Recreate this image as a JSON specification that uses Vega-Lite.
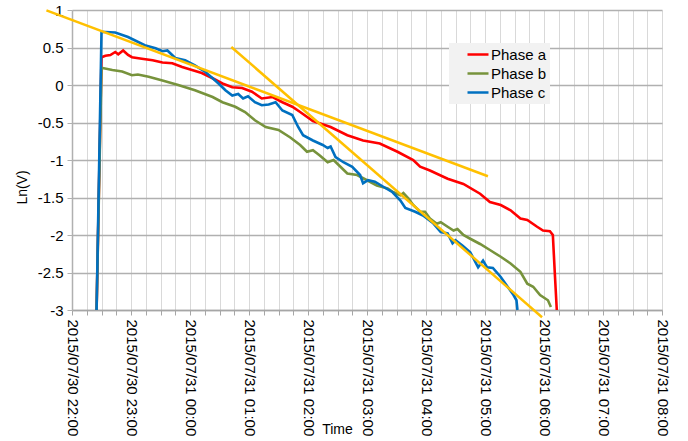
{
  "$schema": "https://vega.github.io/schema/vega-lite/v6.json",
  "width": 590,
  "height": 300,
  "autosize": {"type": "none"},
  "padding": {"left": 72, "top": 10, "right": 26, "bottom": 131},
  "background": "white",
  "config": {"font": "Liberation Sans", "view": {"stroke": null}},
  "layer": [
    {
      "data": {"values": [
        {"phase": "Phase a", "time": "2015-07-30T22:25", "lnv": -3},
        {"phase": "Phase a", "time": "2015-07-30T22:30", "lnv": 0.37},
        {"phase": "Phase a", "time": "2015-07-30T22:34", "lnv": 0.39},
        {"phase": "Phase a", "time": "2015-07-30T22:39", "lnv": 0.40},
        {"phase": "Phase a", "time": "2015-07-30T22:44", "lnv": 0.44},
        {"phase": "Phase a", "time": "2015-07-30T22:47", "lnv": 0.41},
        {"phase": "Phase a", "time": "2015-07-30T22:52", "lnv": 0.46},
        {"phase": "Phase a", "time": "2015-07-30T22:57", "lnv": 0.40},
        {"phase": "Phase a", "time": "2015-07-30T23:01", "lnv": 0.37},
        {"phase": "Phase a", "time": "2015-07-30T23:11", "lnv": 0.35},
        {"phase": "Phase a", "time": "2015-07-30T23:22", "lnv": 0.33},
        {"phase": "Phase a", "time": "2015-07-30T23:32", "lnv": 0.30},
        {"phase": "Phase a", "time": "2015-07-30T23:42", "lnv": 0.29},
        {"phase": "Phase a", "time": "2015-07-30T23:52", "lnv": 0.24},
        {"phase": "Phase a", "time": "2015-07-31T00:02", "lnv": 0.20},
        {"phase": "Phase a", "time": "2015-07-31T00:12", "lnv": 0.16},
        {"phase": "Phase a", "time": "2015-07-31T00:23", "lnv": 0.09},
        {"phase": "Phase a", "time": "2015-07-31T00:33", "lnv": 0.02},
        {"phase": "Phase a", "time": "2015-07-31T00:43", "lnv": -0.03},
        {"phase": "Phase a", "time": "2015-07-31T00:53", "lnv": -0.04},
        {"phase": "Phase a", "time": "2015-07-31T01:03", "lnv": -0.09},
        {"phase": "Phase a", "time": "2015-07-31T01:13", "lnv": -0.18},
        {"phase": "Phase a", "time": "2015-07-31T01:24", "lnv": -0.16},
        {"phase": "Phase a", "time": "2015-07-31T01:34", "lnv": -0.23},
        {"phase": "Phase a", "time": "2015-07-31T01:44", "lnv": -0.29},
        {"phase": "Phase a", "time": "2015-07-31T01:52", "lnv": -0.36},
        {"phase": "Phase a", "time": "2015-07-31T02:05", "lnv": -0.48},
        {"phase": "Phase a", "time": "2015-07-31T02:23", "lnv": -0.56},
        {"phase": "Phase a", "time": "2015-07-31T02:40", "lnv": -0.67},
        {"phase": "Phase a", "time": "2015-07-31T02:56", "lnv": -0.74},
        {"phase": "Phase a", "time": "2015-07-31T03:13", "lnv": -0.78},
        {"phase": "Phase a", "time": "2015-07-31T03:31", "lnv": -0.89},
        {"phase": "Phase a", "time": "2015-07-31T03:47", "lnv": -1.00},
        {"phase": "Phase a", "time": "2015-07-31T03:54", "lnv": -1.09},
        {"phase": "Phase a", "time": "2015-07-31T04:04", "lnv": -1.14},
        {"phase": "Phase a", "time": "2015-07-31T04:22", "lnv": -1.25},
        {"phase": "Phase a", "time": "2015-07-31T04:38", "lnv": -1.32},
        {"phase": "Phase a", "time": "2015-07-31T04:55", "lnv": -1.45},
        {"phase": "Phase a", "time": "2015-07-31T05:05", "lnv": -1.56},
        {"phase": "Phase a", "time": "2015-07-31T05:16", "lnv": -1.60},
        {"phase": "Phase a", "time": "2015-07-31T05:26", "lnv": -1.67},
        {"phase": "Phase a", "time": "2015-07-31T05:36", "lnv": -1.78},
        {"phase": "Phase a", "time": "2015-07-31T05:43", "lnv": -1.80},
        {"phase": "Phase a", "time": "2015-07-31T05:53", "lnv": -1.89},
        {"phase": "Phase a", "time": "2015-07-31T05:59", "lnv": -1.94},
        {"phase": "Phase a", "time": "2015-07-31T06:06", "lnv": -1.95},
        {"phase": "Phase a", "time": "2015-07-31T06:09", "lnv": -2.00},
        {"phase": "Phase a", "time": "2015-07-31T06:11", "lnv": -2.51},
        {"phase": "Phase a", "time": "2015-07-31T06:13", "lnv": -3.0},
        {"phase": "Phase b", "time": "2015-07-30T22:25", "lnv": -3},
        {"phase": "Phase b", "time": "2015-07-30T22:30", "lnv": 0.23},
        {"phase": "Phase b", "time": "2015-07-30T22:41", "lnv": 0.20},
        {"phase": "Phase b", "time": "2015-07-30T22:51", "lnv": 0.18},
        {"phase": "Phase b", "time": "2015-07-30T23:01", "lnv": 0.13},
        {"phase": "Phase b", "time": "2015-07-30T23:07", "lnv": 0.14},
        {"phase": "Phase b", "time": "2015-07-30T23:18", "lnv": 0.11},
        {"phase": "Phase b", "time": "2015-07-30T23:32", "lnv": 0.06},
        {"phase": "Phase b", "time": "2015-07-30T23:48", "lnv": 0.00},
        {"phase": "Phase b", "time": "2015-07-31T00:05", "lnv": -0.07},
        {"phase": "Phase b", "time": "2015-07-31T00:23", "lnv": -0.16},
        {"phase": "Phase b", "time": "2015-07-31T00:33", "lnv": -0.23},
        {"phase": "Phase b", "time": "2015-07-31T00:46", "lnv": -0.29},
        {"phase": "Phase b", "time": "2015-07-31T00:56", "lnv": -0.36},
        {"phase": "Phase b", "time": "2015-07-31T01:06", "lnv": -0.47},
        {"phase": "Phase b", "time": "2015-07-31T01:17", "lnv": -0.56},
        {"phase": "Phase b", "time": "2015-07-31T01:30", "lnv": -0.60},
        {"phase": "Phase b", "time": "2015-07-31T01:42", "lnv": -0.70},
        {"phase": "Phase b", "time": "2015-07-31T01:52", "lnv": -0.80},
        {"phase": "Phase b", "time": "2015-07-31T01:59", "lnv": -0.89},
        {"phase": "Phase b", "time": "2015-07-31T02:05", "lnv": -0.87},
        {"phase": "Phase b", "time": "2015-07-31T02:12", "lnv": -0.94},
        {"phase": "Phase b", "time": "2015-07-31T02:20", "lnv": -1.03},
        {"phase": "Phase b", "time": "2015-07-31T02:26", "lnv": -1.00},
        {"phase": "Phase b", "time": "2015-07-31T02:33", "lnv": -1.09},
        {"phase": "Phase b", "time": "2015-07-31T02:40", "lnv": -1.18},
        {"phase": "Phase b", "time": "2015-07-31T02:50", "lnv": -1.20},
        {"phase": "Phase b", "time": "2015-07-31T03:00", "lnv": -1.27},
        {"phase": "Phase b", "time": "2015-07-31T03:10", "lnv": -1.34},
        {"phase": "Phase b", "time": "2015-07-31T03:21", "lnv": -1.38},
        {"phase": "Phase b", "time": "2015-07-31T03:27", "lnv": -1.43},
        {"phase": "Phase b", "time": "2015-07-31T03:34", "lnv": -1.47},
        {"phase": "Phase b", "time": "2015-07-31T03:37", "lnv": -1.44},
        {"phase": "Phase b", "time": "2015-07-31T03:42", "lnv": -1.51},
        {"phase": "Phase b", "time": "2015-07-31T03:47", "lnv": -1.60},
        {"phase": "Phase b", "time": "2015-07-31T03:54", "lnv": -1.69},
        {"phase": "Phase b", "time": "2015-07-31T03:59", "lnv": -1.69},
        {"phase": "Phase b", "time": "2015-07-31T04:04", "lnv": -1.78},
        {"phase": "Phase b", "time": "2015-07-31T04:11", "lnv": -1.85},
        {"phase": "Phase b", "time": "2015-07-31T04:15", "lnv": -1.83},
        {"phase": "Phase b", "time": "2015-07-31T04:22", "lnv": -1.89},
        {"phase": "Phase b", "time": "2015-07-31T04:28", "lnv": -1.94},
        {"phase": "Phase b", "time": "2015-07-31T04:32", "lnv": -1.92},
        {"phase": "Phase b", "time": "2015-07-31T04:38", "lnv": -2.00},
        {"phase": "Phase b", "time": "2015-07-31T04:45", "lnv": -2.05},
        {"phase": "Phase b", "time": "2015-07-31T04:55", "lnv": -2.12},
        {"phase": "Phase b", "time": "2015-07-31T05:05", "lnv": -2.20},
        {"phase": "Phase b", "time": "2015-07-31T05:16", "lnv": -2.29},
        {"phase": "Phase b", "time": "2015-07-31T05:26", "lnv": -2.38},
        {"phase": "Phase b", "time": "2015-07-31T05:36", "lnv": -2.49},
        {"phase": "Phase b", "time": "2015-07-31T05:43", "lnv": -2.65},
        {"phase": "Phase b", "time": "2015-07-31T05:49", "lnv": -2.69},
        {"phase": "Phase b", "time": "2015-07-31T05:56", "lnv": -2.80},
        {"phase": "Phase b", "time": "2015-07-31T06:04", "lnv": -2.87},
        {"phase": "Phase b", "time": "2015-07-31T06:07", "lnv": -2.96},
        {"phase": "Phase c", "time": "2015-07-30T22:25", "lnv": -3},
        {"phase": "Phase c", "time": "2015-07-30T22:30", "lnv": 0.71},
        {"phase": "Phase c", "time": "2015-07-30T22:44", "lnv": 0.70},
        {"phase": "Phase c", "time": "2015-07-30T22:57", "lnv": 0.64},
        {"phase": "Phase c", "time": "2015-07-30T23:14", "lnv": 0.53},
        {"phase": "Phase c", "time": "2015-07-30T23:25", "lnv": 0.49},
        {"phase": "Phase c", "time": "2015-07-30T23:32", "lnv": 0.45},
        {"phase": "Phase c", "time": "2015-07-30T23:37", "lnv": 0.46},
        {"phase": "Phase c", "time": "2015-07-30T23:45", "lnv": 0.36},
        {"phase": "Phase c", "time": "2015-07-30T23:55", "lnv": 0.33},
        {"phase": "Phase c", "time": "2015-07-31T00:05", "lnv": 0.26},
        {"phase": "Phase c", "time": "2015-07-31T00:16", "lnv": 0.17},
        {"phase": "Phase c", "time": "2015-07-31T00:23", "lnv": 0.09},
        {"phase": "Phase c", "time": "2015-07-31T00:29", "lnv": 0.02},
        {"phase": "Phase c", "time": "2015-07-31T00:36", "lnv": -0.07},
        {"phase": "Phase c", "time": "2015-07-31T00:43", "lnv": -0.14},
        {"phase": "Phase c", "time": "2015-07-31T00:49", "lnv": -0.12},
        {"phase": "Phase c", "time": "2015-07-31T00:54", "lnv": -0.18},
        {"phase": "Phase c", "time": "2015-07-31T00:59", "lnv": -0.15},
        {"phase": "Phase c", "time": "2015-07-31T01:06", "lnv": -0.23},
        {"phase": "Phase c", "time": "2015-07-31T01:13", "lnv": -0.27},
        {"phase": "Phase c", "time": "2015-07-31T01:20", "lnv": -0.26},
        {"phase": "Phase c", "time": "2015-07-31T01:27", "lnv": -0.23},
        {"phase": "Phase c", "time": "2015-07-31T01:34", "lnv": -0.34},
        {"phase": "Phase c", "time": "2015-07-31T01:44", "lnv": -0.40},
        {"phase": "Phase c", "time": "2015-07-31T01:50", "lnv": -0.56},
        {"phase": "Phase c", "time": "2015-07-31T01:55", "lnv": -0.67},
        {"phase": "Phase c", "time": "2015-07-31T02:05", "lnv": -0.74},
        {"phase": "Phase c", "time": "2015-07-31T02:15", "lnv": -0.80},
        {"phase": "Phase c", "time": "2015-07-31T02:20", "lnv": -0.84},
        {"phase": "Phase c", "time": "2015-07-31T02:23", "lnv": -0.82},
        {"phase": "Phase c", "time": "2015-07-31T02:28", "lnv": -0.96},
        {"phase": "Phase c", "time": "2015-07-31T02:36", "lnv": -1.03},
        {"phase": "Phase c", "time": "2015-07-31T02:45", "lnv": -1.09},
        {"phase": "Phase c", "time": "2015-07-31T02:53", "lnv": -1.20},
        {"phase": "Phase c", "time": "2015-07-31T02:56", "lnv": -1.31},
        {"phase": "Phase c", "time": "2015-07-31T03:01", "lnv": -1.27},
        {"phase": "Phase c", "time": "2015-07-31T03:08", "lnv": -1.29},
        {"phase": "Phase c", "time": "2015-07-31T03:17", "lnv": -1.36},
        {"phase": "Phase c", "time": "2015-07-31T03:26", "lnv": -1.43},
        {"phase": "Phase c", "time": "2015-07-31T03:34", "lnv": -1.54},
        {"phase": "Phase c", "time": "2015-07-31T03:39", "lnv": -1.64},
        {"phase": "Phase c", "time": "2015-07-31T03:49", "lnv": -1.69},
        {"phase": "Phase c", "time": "2015-07-31T03:57", "lnv": -1.74},
        {"phase": "Phase c", "time": "2015-07-31T04:07", "lnv": -1.84},
        {"phase": "Phase c", "time": "2015-07-31T04:15", "lnv": -1.96},
        {"phase": "Phase c", "time": "2015-07-31T04:22", "lnv": -1.98},
        {"phase": "Phase c", "time": "2015-07-31T04:27", "lnv": -2.11},
        {"phase": "Phase c", "time": "2015-07-31T04:30", "lnv": -2.07},
        {"phase": "Phase c", "time": "2015-07-31T04:37", "lnv": -2.14},
        {"phase": "Phase c", "time": "2015-07-31T04:45", "lnv": -2.23},
        {"phase": "Phase c", "time": "2015-07-31T04:53", "lnv": -2.43},
        {"phase": "Phase c", "time": "2015-07-31T04:58", "lnv": -2.34},
        {"phase": "Phase c", "time": "2015-07-31T05:02", "lnv": -2.43},
        {"phase": "Phase c", "time": "2015-07-31T05:08", "lnv": -2.44},
        {"phase": "Phase c", "time": "2015-07-31T05:16", "lnv": -2.56},
        {"phase": "Phase c", "time": "2015-07-31T05:23", "lnv": -2.69},
        {"phase": "Phase c", "time": "2015-07-31T05:29", "lnv": -2.80},
        {"phase": "Phase c", "time": "2015-07-31T05:32", "lnv": -2.87},
        {"phase": "Phase c", "time": "2015-07-31T05:33", "lnv": -3.0}
      ]},
      "mark": {"type": "line", "strokeWidth": 2.6, "clip": false},
      "encoding": {
        "x": {
          "field": "time",
          "type": "temporal",
          "scale": {
            "domain": [
              {"year": 2015, "month": 7, "date": 30, "hours": 22},
              {"year": 2015, "month": 7, "date": 31, "hours": 8}
            ],
            "nice": false
          },
          "axis": {
            "title": "Time",
            "tickCount": 100,
            "values": [
              {"year": 2015, "month": 7, "date": 30, "hours": 22, "minutes": 0},
              {"year": 2015, "month": 7, "date": 30, "hours": 22, "minutes": 15},
              {"year": 2015, "month": 7, "date": 30, "hours": 22, "minutes": 30},
              {"year": 2015, "month": 7, "date": 30, "hours": 22, "minutes": 45},
              {"year": 2015, "month": 7, "date": 30, "hours": 23, "minutes": 0},
              {"year": 2015, "month": 7, "date": 30, "hours": 23, "minutes": 15},
              {"year": 2015, "month": 7, "date": 30, "hours": 23, "minutes": 30},
              {"year": 2015, "month": 7, "date": 30, "hours": 23, "minutes": 45},
              {"year": 2015, "month": 7, "date": 31, "hours": 0, "minutes": 0},
              {"year": 2015, "month": 7, "date": 31, "hours": 0, "minutes": 15},
              {"year": 2015, "month": 7, "date": 31, "hours": 0, "minutes": 30},
              {"year": 2015, "month": 7, "date": 31, "hours": 0, "minutes": 45},
              {"year": 2015, "month": 7, "date": 31, "hours": 1, "minutes": 0},
              {"year": 2015, "month": 7, "date": 31, "hours": 1, "minutes": 15},
              {"year": 2015, "month": 7, "date": 31, "hours": 1, "minutes": 30},
              {"year": 2015, "month": 7, "date": 31, "hours": 1, "minutes": 45},
              {"year": 2015, "month": 7, "date": 31, "hours": 2, "minutes": 0},
              {"year": 2015, "month": 7, "date": 31, "hours": 2, "minutes": 15},
              {"year": 2015, "month": 7, "date": 31, "hours": 2, "minutes": 30},
              {"year": 2015, "month": 7, "date": 31, "hours": 2, "minutes": 45},
              {"year": 2015, "month": 7, "date": 31, "hours": 3, "minutes": 0},
              {"year": 2015, "month": 7, "date": 31, "hours": 3, "minutes": 15},
              {"year": 2015, "month": 7, "date": 31, "hours": 3, "minutes": 30},
              {"year": 2015, "month": 7, "date": 31, "hours": 3, "minutes": 45},
              {"year": 2015, "month": 7, "date": 31, "hours": 4, "minutes": 0},
              {"year": 2015, "month": 7, "date": 31, "hours": 4, "minutes": 15},
              {"year": 2015, "month": 7, "date": 31, "hours": 4, "minutes": 30},
              {"year": 2015, "month": 7, "date": 31, "hours": 4, "minutes": 45},
              {"year": 2015, "month": 7, "date": 31, "hours": 5, "minutes": 0},
              {"year": 2015, "month": 7, "date": 31, "hours": 5, "minutes": 15},
              {"year": 2015, "month": 7, "date": 31, "hours": 5, "minutes": 30},
              {"year": 2015, "month": 7, "date": 31, "hours": 5, "minutes": 45},
              {"year": 2015, "month": 7, "date": 31, "hours": 6, "minutes": 0},
              {"year": 2015, "month": 7, "date": 31, "hours": 6, "minutes": 15},
              {"year": 2015, "month": 7, "date": 31, "hours": 6, "minutes": 30},
              {"year": 2015, "month": 7, "date": 31, "hours": 6, "minutes": 45},
              {"year": 2015, "month": 7, "date": 31, "hours": 7, "minutes": 0},
              {"year": 2015, "month": 7, "date": 31, "hours": 7, "minutes": 15},
              {"year": 2015, "month": 7, "date": 31, "hours": 7, "minutes": 30},
              {"year": 2015, "month": 7, "date": 31, "hours": 7, "minutes": 45},
              {"year": 2015, "month": 7, "date": 31, "hours": 8, "minutes": 0}
            ],
            "labelExpr": "minutes(datum.value) == 0 ? timeFormat(datum.value, '%Y/%m/%d %H:%M') : ''",
            "labelAngle": 90,
            "labelAlign": "left",
            "labelBaseline": "middle",
            "labelPadding": 4,
            "labelOverlap": false,
            "labelFlush": false,
            "labelFontSize": 15,
            "labelColor": "#000000",
            "tickSize": 5,
            "tickColor": "#a6a6a6",
            "domainColor": "#a6a6a6",
            "domainWidth": 1.5,
            "gridColor": "#d9d9d9",
            "gridWidth": 1,
            "titleX": 265,
            "titleY": 119,
            "titleFontSize": 14,
            "titleFontWeight": "normal",
            "titleColor": "#000000",
            "titleAlign": "center",
            "titleBaseline": "middle"
          }
        },
        "y": {
          "field": "lnv",
          "type": "quantitative",
          "scale": {"domain": [-3, 1], "nice": false, "zero": false},
          "axis": {
            "title": "Ln(V)",
            "tickCount": 50,
            "values": [-3, -2.5, -2, -1.5, -1, -0.5, 0, 0.5, 1],
            "labelExpr": "'' + datum.value",
            "labelOverlap": false,
            "labelFontSize": 15,
            "labelColor": "#000000",
            "labelPadding": 4,
            "tickSize": 5,
            "tickColor": "#b0b0b0",
            "domainColor": "#b0b0b0",
            "domainWidth": 1.5,
            "gridColor": "#b0b0b0",
            "gridWidth": 1.5,
            "titleX": -50,
            "titleY": 177,
            "titleAngle": -90,
            "titleFontSize": 14,
            "titleFontWeight": "normal",
            "titleColor": "#000000",
            "titleAlign": "center",
            "titleBaseline": "middle"
          }
        },
        "color": {
          "field": "phase",
          "type": "nominal",
          "scale": {
            "domain": ["Phase a", "Phase b", "Phase c"],
            "range": ["#ff0000", "#77933c", "#0070c0"]
          },
          "legend": {
            "title": null,
            "orient": "none",
            "legendX": 377,
            "legendY": 33,
            "fillColor": "#f2f2f2",
            "padding": 3,
            "symbolType": "stroke",
            "symbolSize": 441,
            "symbolStrokeWidth": 2.5,
            "symbolOffset": 14,
            "labelFontSize": 15,
            "labelColor": "#000000",
            "labelOffset": 1,
            "clipHeight": 17,
            "rowPadding": 2,
            "labelExpr": "datum.label + '     '"
          }
        }
      }
    },
    {
      "data": {"values": [
        {"line": "t1", "time": "2015-07-30T21:34", "lnv": 0.996},
        {"line": "t1", "time": "2015-07-31T05:03", "lnv": -1.217},
        {"line": "t2", "time": "2015-07-31T00:42", "lnv": 0.507},
        {"line": "t2", "time": "2015-07-31T05:58", "lnv": -3.097}
      ]},
      "mark": {"type": "line", "color": "#ffc000", "strokeWidth": 2.5, "clip": false},
      "encoding": {
        "x": {"field": "time", "type": "temporal"},
        "y": {"field": "lnv", "type": "quantitative"},
        "detail": {"field": "line", "type": "nominal"}
      }
    }
  ]
}
